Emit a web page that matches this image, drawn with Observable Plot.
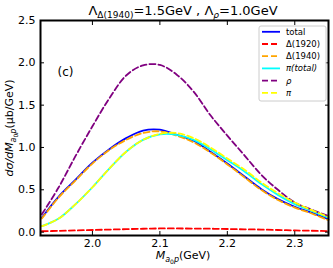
<!DOCTYPE html>
<html><head><meta charset="utf-8">
<script src="https://cdn.jsdelivr.net/npm/d3@7"></script>
<script src="https://cdn.jsdelivr.net/npm/@observablehq/plot@0.6"></script>
<style>
body{margin:0;background:#fff;}
#c svg{font-family:"DejaVu Sans",sans-serif;}
</style></head>
<body><div id="c"></div>
<script>
const mass = [1.925,1.95,1.975,2.0,2.025,2.05,2.075,2.1,2.125,2.15,2.175,2.2,2.225,2.25,2.275,2.3,2.325,2.35];
const total   = [0.17,0.42,0.62,0.82,0.98,1.11,1.20,1.21,1.15,1.08,0.95,0.81,0.66,0.51,0.39,0.30,0.23,0.15];
const d1920   = [0.01,0.015,0.02,0.025,0.03,0.035,0.04,0.043,0.043,0.042,0.04,0.037,0.033,0.03,0.025,0.02,0.016,0.012];
const d1940   = [0.16,0.41,0.61,0.81,0.97,1.09,1.17,1.19,1.14,1.06,0.94,0.80,0.65,0.50,0.38,0.29,0.22,0.14];
const piTotal = [0.07,0.16,0.33,0.53,0.75,0.95,1.09,1.155,1.15,1.09,0.98,0.85,0.72,0.57,0.44,0.33,0.25,0.17];
const rho     = [0.21,0.53,0.90,1.25,1.58,1.85,1.97,1.975,1.86,1.66,1.38,1.14,0.91,0.68,0.50,0.35,0.265,0.19];
const pi      = [0.07,0.16,0.33,0.53,0.75,0.95,1.09,1.16,1.17,1.11,1.00,0.87,0.74,0.59,0.46,0.35,0.26,0.18];
const xTicks = [2.0,2.1,2.2,2.3];
const yTicks = [0,0.5,1.0,1.5,2.0,2.5];

const series = [
  {name:"total", values: total, color:"blue", dash:null},
  {name:"Δ(1920)", values: d1920, color:"red", dash:"6,3"},
  {name:"Δ(1940)", values: d1940, color:"orange", dash:"6,3"},
  {name:"π(total)", values: piTotal, color:"cyan", dash:null, italic:true},
  {name:"ρ", values: rho, color:"purple", dash:"6,3", italic:true},
  {name:"π", values: pi, color:"yellow", dash:"6,3", italic:true}
];
const rows = s => mass.map((m,i)=>({m, v:s.values[i]}));

const svg = Plot.plot({
  width:333, height:268,
  marginLeft:40, marginTop:20, marginRight:5, marginBottom:33,
  style:{fontSize:"11px", fontFamily:"DejaVu Sans", background:"#fff", overflow:"visible", color:"#000"},
  x:{domain:[1.923,2.35]},
  y:{domain:[-0.04,2.5]},
  marks:[
    ...series.map(s => Plot.line(rows(s), {x:"m", y:"v", stroke:s.color, strokeWidth:1.8, strokeDasharray:s.dash, curve:"catmull-rom"})),
    Plot.axisX({ticks:xTicks, tickSize:-4, tickPadding:8, tickFormat:d3.format(".1f"), label:null}),
    Plot.axisX({anchor:"top", ticks:xTicks, tickSize:-4, tickFormat:()=>"", label:null}),
    Plot.axisY({ticks:yTicks, tickSize:-4, tickPadding:9, tickFormat:d3.format(".1f"), label:null}),
    Plot.axisY({anchor:"right", ticks:yTicks, tickSize:-4, tickFormat:()=>"", label:null}),
    Plot.frame({stroke:"#000", strokeWidth:2}),
    Plot.text(["(c)"], {frameAnchor:"top-left", dx:17, dy:47, fontSize:12})
  ]
});
document.getElementById("c").appendChild(svg);
const g = d3.select(svg);
// title
const t = g.append("text").attr("x",183).attr("y",15).attr("text-anchor","middle").attr("font-size",13).attr("fill","#000");
t.append("tspan").text("Λ");
t.append("tspan").attr("font-size",9).attr("dy",3).text("Δ(1940)");
t.append("tspan").attr("dy",-3).text("=1.5GeV , Λ");
t.append("tspan").attr("font-size",9).attr("dy",3).attr("font-style","italic").text("ρ");
t.append("tspan").attr("dy",-3).text("=1.0GeV");
// x label
const xl = g.append("text").attr("x",183).attr("y",259).attr("text-anchor","middle").attr("font-size",11).attr("fill","#000");
xl.append("tspan").attr("font-style","italic").text("M");
xl.append("tspan").attr("font-style","italic").attr("font-size",8).attr("dy",3).text("a");
xl.append("tspan").attr("font-size",6).attr("dy",1.5).text("0");
xl.append("tspan").attr("font-style","italic").attr("font-size",8).attr("dy",-1.5).text("p");
xl.append("tspan").attr("dy",-3).text("(GeV)");
// y label
const yl = g.append("text").attr("transform","translate(13,128) rotate(-90)").attr("text-anchor","middle").attr("font-size",11).attr("fill","#000");
yl.append("tspan").attr("font-style","italic").text("dσ/dM");
yl.append("tspan").attr("font-style","italic").attr("font-size",8).attr("dy",3).text("a");
yl.append("tspan").attr("font-size",6).attr("dy",1.5).text("0");
yl.append("tspan").attr("font-style","italic").attr("font-size",8).attr("dy",-1.5).text("p");
yl.append("tspan").attr("dy",-3).text("(μb/GeV)");
// legend
const lg = g.append("g").attr("text-anchor","start");
lg.append("rect").attr("x",259).attr("y",26).attr("width",67).attr("height",75).attr("rx",2).attr("fill","#fff").attr("fill-opacity",0.85).attr("stroke","#ccc").attr("stroke-width",1);
series.forEach((s,i)=>{
  const y = 31.8 + i*12.2;
  lg.append("line").attr("x1",262).attr("x2",280).attr("y1",y).attr("y2",y).attr("stroke",s.color).attr("stroke-width",1.8).attr("stroke-dasharray",s.dash);
  lg.append("text").attr("x",286).attr("y",y).attr("dy","0.35em").attr("text-anchor","start").attr("font-size",8.5).attr("fill","#000").attr("font-style",s.italic?"italic":null).text(s.name);
});
</script></body></html>
